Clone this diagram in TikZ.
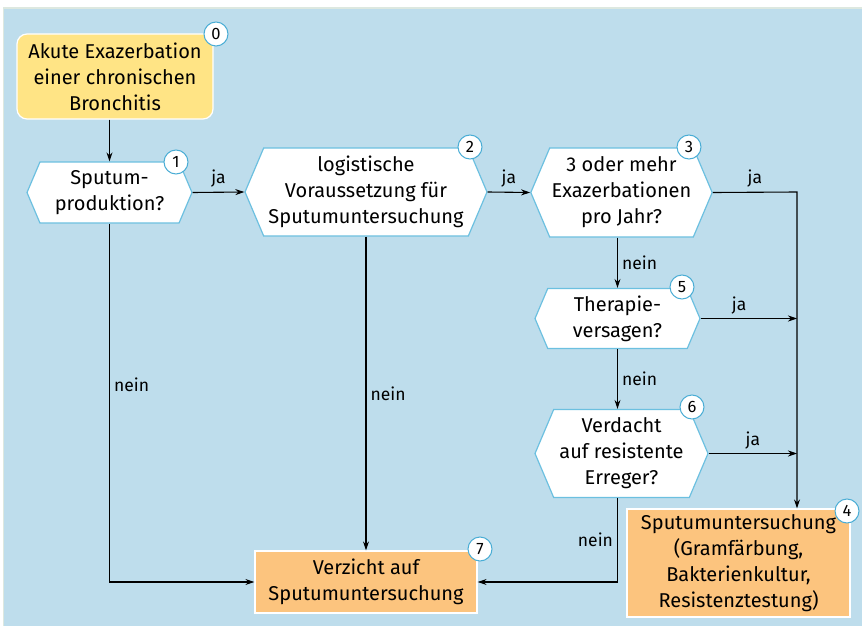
\documentclass[tikz,border=0pt]{standalone}
\usepackage{fontspec}
\setmainfont{Fira Sans}
\usetikzlibrary{shapes.symbols,arrows.meta}

\definecolor{bgblue}{HTML}{BEDDEC}
\definecolor{edgeblue}{HTML}{6CC0E0}
\definecolor{numblue}{HTML}{4AADD5}
\definecolor{startyellow}{HTML}{FFE485}
\definecolor{endorange}{HTML}{FCC47E}
\definecolor{rimgray}{HTML}{DDE8E0}

\begin{document}
\begin{tikzpicture}[x=1pt,y=-1pt,
  every node/.style={font=\fontsize{20}{26}\selectfont},
  startbox/.style={fill=startyellow,draw=white,line width=1.2pt,rounded corners=10pt,
    align=center,minimum width=196pt,minimum height=85pt},
  hexbox/.style={signal,signal to=west and east,signal pointer angle=134,
    fill=white,draw=edgeblue,line width=1.2pt,align=center,inner sep=2pt},
  endbox/.style={fill=endorange,draw=white,line width=1.2pt,align=center},
  num/.style={circle,fill=white,draw=numblue,line width=1pt,minimum size=24pt,
    inner sep=0pt,font=\fontsize{16.5}{16.5}\selectfont},
  lbl/.style={font=\fontsize{17.5}{19}\selectfont,inner sep=4pt},
  arr/.style={-{Stealth[length=9pt,width=6pt]},line width=1.1pt},
  ]
  \useasboundingbox (0,0) rectangle (862,626);
  \fill[white] (0,0) rectangle (862,626);
  \fill[rimgray] (3,7) rectangle (862,626);
  \fill[bgblue] (4,9) rectangle (862,626);

  % boxes and questions
  \node[startbox] (n0) at (115,76.5) {Akute Exazerbation\\einer chronischen\\Bronchitis};
  \node[hexbox,minimum width=165pt,minimum height=61pt] (q1) at (109.5,192.5)
    {Sputum-\\produktion?};
  \node[hexbox,minimum width=242pt,minimum height=88pt] (q2) at (366,192)
    {logistische\\Voraussetzung für\\Sputumuntersuchung};
  \node[hexbox,minimum width=173pt,minimum height=89pt] (q3) at (621.5,192.5)
    {3 oder mehr\\Exazerbationen\\pro Jahr?};
  \node[hexbox,minimum width=165pt,minimum height=60pt] (q5) at (617.5,318.5)
    {Therapie-\\versagen?};
  \node[hexbox,minimum width=173pt,minimum height=88pt] (q6) at (621.5,453.5)
    {Verdacht\\auf resistente\\Erreger?};
  \node[endbox,minimum width=223pt,minimum height=108pt] (n4) at (738.5,563)
    {Sputumuntersuchung\\(Gramfärbung,\\Bakterienkultur,\\Resistenztestung)};
  \node[endbox,minimum width=222pt,minimum height=62pt] (n7) at (366,582)
    {Verzicht auf\\Sputumuntersuchung};

  % step numbers
  \node[num] (c0) at (216,34) {0};
  \node[num] (c1) at (176,162) {1};
  \node[num] (c2) at (470,147) {2};
  \node[num] (c3) at (689,147) {3};
  \node[num] (c4) at (847,511) {4};
  \node[num] (c5) at (682,287) {5};
  \node[num] (c6) at (692,407) {6};
  \node[num] (c7) at (480,549) {7};

  % connectors
  \coordinate (rt) at (797,192);
  \draw[arr] (n0.south -| q1) -- (q1.north);
  \draw[arr] (q1.east) -- node[lbl,above]{ja} (q2.west);
  \draw[arr] (q2.east) -- node[lbl,above]{ja} (q3.west);
  \draw[arr] (q3.east) -- node[lbl,above]{ja} (rt) -- (rt |- n4.north);
  \draw[arr] (q3.south -| q5) -- node[lbl,right]{nein} (q5.north);
  \draw[arr] (q5.east) -- node[lbl,above,pos=0.4]{ja} (q5.east -| rt);
  \draw[arr] (q5.south) -- node[lbl,right]{nein} (q5.south |- q6.north);
  \draw[arr] (q6.east) -- node[lbl,above]{ja} (q6.east -| rt);
  \draw[arr] (q5 |- q6.south) -- node[lbl,left]{nein} (q5 |- n7) -- (n7.east);
  \draw[arr] (q1.south) -- node[lbl,right,pos=0.45]{nein} (q1 |- n7) -- (n7.west);
  \draw[arr] (q2.south) -- node[lbl,right]{nein} (n7.north);
\end{tikzpicture}
\end{document}
